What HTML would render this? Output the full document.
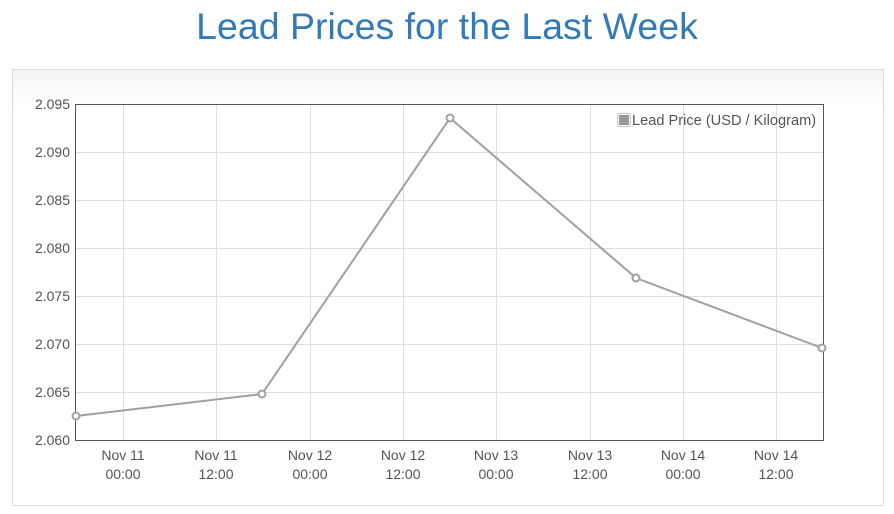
<!DOCTYPE html>
<html><head><style>
body{margin:0;width:894px;height:514px;background:#fff;font-family:"Liberation Sans",sans-serif;overflow:hidden;position:relative}
h1{position:absolute;top:5px;left:0;width:894px;text-align:center;margin:0;font-weight:normal;font-size:37.5px;color:#337ab7}
.panel{position:absolute;left:12px;top:69px;width:870px;height:435px;border:1px solid #ddd;background:linear-gradient(#f4f4f4,#fff 40px)}
</style></head><body>
<h1>Lead Prices for the Last Week</h1>
<div class="panel"></div>
<svg width="894" height="514" style="position:absolute;left:0;top:0" font-family="Liberation Sans,sans-serif">
<rect x="75" y="104" width="748" height="336" fill="#fff"/>
<g stroke="#ddd" stroke-width="1">
<line x1="75" x2="823" y1="152.5" y2="152.5"/><line x1="75" x2="823" y1="200.5" y2="200.5"/>
<line x1="75" x2="823" y1="248.5" y2="248.5"/><line x1="75" x2="823" y1="296.5" y2="296.5"/>
<line x1="75" x2="823" y1="344.5" y2="344.5"/><line x1="75" x2="823" y1="392.5" y2="392.5"/>
<line y1="104" y2="440" x1="123.5" x2="123.5"/><line y1="104" y2="440" x1="216.5" x2="216.5"/>
<line y1="104" y2="440" x1="310.5" x2="310.5"/><line y1="104" y2="440" x1="403.5" x2="403.5"/>
<line y1="104" y2="440" x1="496.5" x2="496.5"/><line y1="104" y2="440" x1="590.5" x2="590.5"/>
<line y1="104" y2="440" x1="683.5" x2="683.5"/><line y1="104" y2="440" x1="776.5" x2="776.5"/>
</g>
<rect x="75.5" y="104.5" width="748" height="336" fill="none" stroke="#555" stroke-width="1"/>
<g font-size="14" fill="#545454" text-anchor="end">
<text x="70" y="109">2.095</text><text x="70" y="157">2.090</text><text x="70" y="205">2.085</text>
<text x="70" y="253">2.080</text><text x="70" y="301">2.075</text><text x="70" y="349">2.070</text>
<text x="70" y="397">2.065</text><text x="70" y="445">2.060</text>
</g>
<g font-size="14" fill="#545454" text-anchor="middle">
<text x="123" y="460">Nov 11</text><text x="123" y="479">00:00</text>
<text x="216" y="460">Nov 11</text><text x="216" y="479">12:00</text>
<text x="310" y="460">Nov 12</text><text x="310" y="479">00:00</text>
<text x="403" y="460">Nov 12</text><text x="403" y="479">12:00</text>
<text x="496" y="460">Nov 13</text><text x="496" y="479">00:00</text>
<text x="590" y="460">Nov 13</text><text x="590" y="479">12:00</text>
<text x="683" y="460">Nov 14</text><text x="683" y="479">00:00</text>
<text x="776" y="460">Nov 14</text><text x="776" y="479">12:00</text>
</g>
<polyline points="76,416 262,394 450,118 636,278 822,348" fill="none" stroke="#a0a0a0" stroke-width="2"/>
<g fill="#fff" stroke="#a0a0a0" stroke-width="2">
<circle cx="76" cy="416" r="3.5"/><circle cx="262" cy="394" r="3.5"/><circle cx="450" cy="118" r="3.5"/>
<circle cx="636" cy="278" r="3.5"/><circle cx="822" cy="348" r="3.5"/>
</g>
<rect x="617.5" y="113.5" width="13" height="13" fill="#fff" stroke="#ccc"/>
<rect x="619" y="115" width="10" height="10" fill="#999"/>
<text x="632" y="125" font-size="14.6" fill="#545454">Lead Price (USD / Kilogram)</text>
</svg>
</body></html>
